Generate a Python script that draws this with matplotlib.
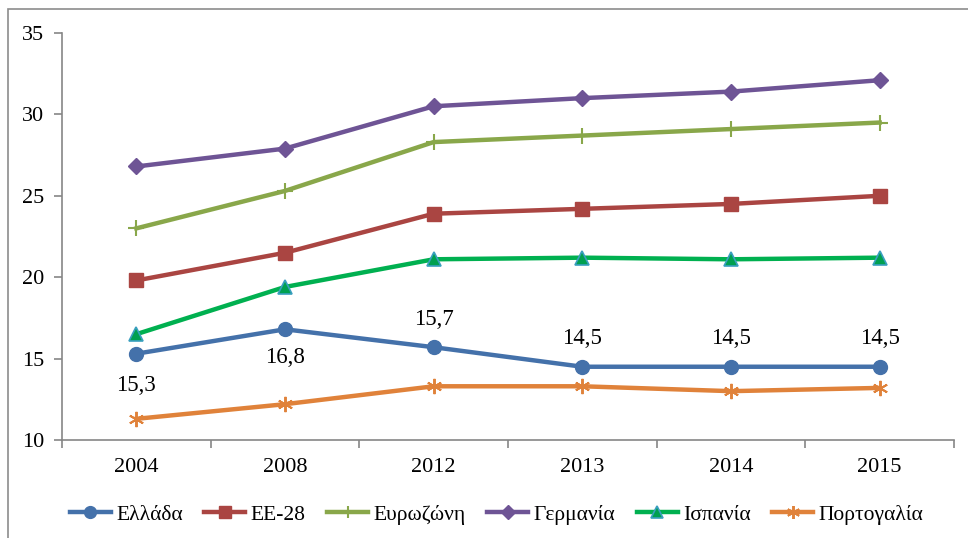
import matplotlib
matplotlib.use("Agg")
import matplotlib.pyplot as plt
from matplotlib.patches import Rectangle
import numpy as np

plt.rcParams['font.family'] = ['Liberation Serif', 'DejaVu Serif']

years = ["2004", "2008", "2012", "2013", "2014", "2015"]

greece = [15.3, 16.8, 15.7, 14.5, 14.5, 14.5]
eu28 = [19.8, 21.5, 23.9, 24.2, 24.5, 25.0]
eurozone = [23.0, 25.3, 28.3, 28.7, 29.1, 29.5]
germany = [26.8, 27.9, 30.5, 31.0, 31.4, 32.1]
spain = [16.5, 19.4, 21.1, 21.2, 21.1, 21.2]
portugal = [11.3, 12.2, 13.3, 13.3, 13.0, 13.2]

series_names = ["Ελλάδα", "ΕΕ-28", "Ευρωζώνη", "Γερμανία", "Ισπανία", "Πορτογαλία"]
y_ticks = [10, 15, 20, 25, 30, 35]

fig = plt.figure(figsize=(9.68, 5.38), dpi=100)

# outer chart frame
fig.patches.append(Rectangle((8 / 968, -0.05), 1.2, 1 - 9 / 538 + 0.05,
                             transform=fig.transFigure, fill=False,
                             edgecolor="#8c8c8c", linewidth=1.2, zorder=0))

ax = fig.add_axes([62 / 968, 1 - 440 / 538, (954 - 62) / 968, (440 - 33) / 538])
x = np.arange(len(years))

lw = 3.2
ax.plot(x, greece, color="#4471AA", lw=lw, marker="o", ms=10, label=series_names[0], zorder=5)
ax.plot(x, eu28, color="#AA4542", lw=lw, marker="s", ms=9.5, label=series_names[1])
ax.plot(x, eurozone, color="#89A74A", lw=lw, marker="+", ms=11, mew=1.5, label=series_names[2])
ax.plot(x, germany, color="#6E5495", lw=lw, marker="D", ms=8, label=series_names[3])
ax.plot(x, spain, color="#00B050", lw=lw, marker="^", ms=10, mfc="#00A050",
        mec="#3A9FBF", mew=1.2, label=series_names[4])
ax.plot(x, portugal, color="#E0823A", lw=lw, marker=(6, 2, 0), ms=11, mew=1.4,
        label=series_names[5])

# value labels for Greece
offsets = [-23, -20, 20, 20, 20, 20]
for xi, v, off in zip(x, greece, offsets):
    ax.annotate(f"{v:.1f}".replace(".", ","), (xi, v), xytext=(0, off),
                textcoords="offset points", ha="center", va="center", fontsize=16.5)

ax.set_xlim(-0.5, len(years) - 0.5)
ax.set_ylim(10, 35)
ax.set_yticks(y_ticks)
ax.set_yticklabels([str(t) for t in y_ticks], fontsize=16)
ax.set_xticks(x)
ax.set_xticklabels(years, fontsize=16)
ax.set_xticks(np.arange(-0.5, len(years)), minor=True)
ax.tick_params(axis="x", which="major", length=0, pad=13)
ax.tick_params(axis="x", which="minor", length=6, color="#868686", width=1.2, direction="out")
ax.tick_params(axis="y", length=6, color="#868686", width=1.2, direction="out", pad=7)

for side in ["top", "right"]:
    ax.spines[side].set_visible(False)
for side in ["left", "bottom"]:
    ax.spines[side].set_color("#868686")
    ax.spines[side].set_linewidth(1.2)

ax.legend(loc="center", bbox_to_anchor=(0.513, 0.043), bbox_transform=fig.transFigure,
          ncol=6, frameon=False, fontsize=15.5, handlelength=1.9, handletextpad=0.25,
          columnspacing=1.0, markerscale=0.85)

fig.savefig("out.png", dpi=100)
